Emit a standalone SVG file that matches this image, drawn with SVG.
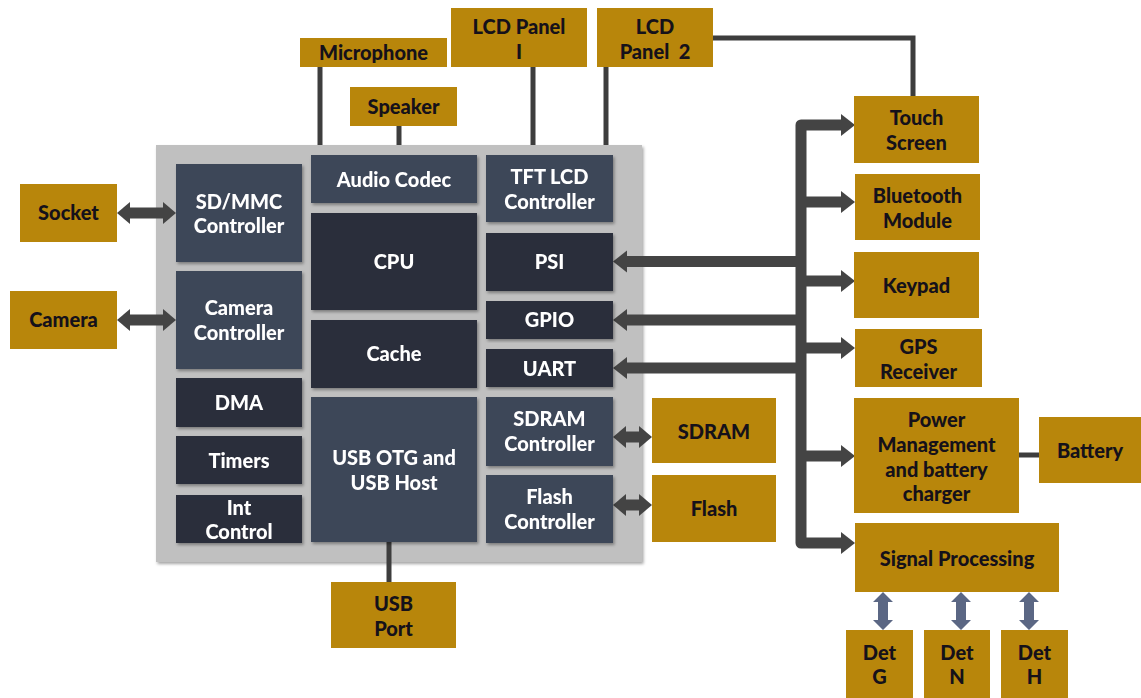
<svg xmlns="http://www.w3.org/2000/svg" width="1141" height="698" viewBox="0 0 1141 698">
<style>
.gold{fill:#b8860b}
.lt{fill:#3e4659}
.dk{fill:#2a2d3a}
.gt{font-family:Lato,"Open Sans",sans-serif;font-weight:900;font-size:20px;fill:#15111a;text-anchor:middle}
.wt{font-family:Lato,"Open Sans",sans-serif;font-weight:900;font-size:20px;fill:#fff;text-anchor:middle}
.ln{stroke:#3d3d3d;stroke-width:5;fill:none}
.bus{stroke:#444;stroke-width:11;fill:none;stroke-linejoin:round}
.ah{fill:#444}
.va{fill:#5b6784}
.sh{filter:url(#shadow)}
</style>
<defs>
<filter id="shadow" x="-10%" y="-10%" width="120%" height="120%">
<feDropShadow dx="1.5" dy="2" stdDeviation="1.5" flood-color="#000" flood-opacity="0.35"/>
</filter>
</defs>
<rect width="1141" height="698" fill="#fff"/>
<rect id="chip" x="156" y="145" width="486" height="417" fill="#c0c0c0" class="sh"/>

<g id="connectors">
<path class="ln" d="M320 67V145"/>
<path class="ln" d="M399 126V145"/>
<path class="ln" d="M533 67V145"/>
<path class="ln" d="M606 67V145"/>
<path class="ln" d="M713 38H913V96"/>
<path class="ln" d="M389 542V582"/>
<path class="ln" d="M1019 455H1039"/>
<path class="bus" d="M845 125H801V543H845"/>
<path class="bus" d="M801 202H845M801 281H845M801 348H845M801 456H845"/>
<path class="bus" d="M801 261.5H624M801 320H624M801 368H624"/>
<polygon class="ah" points="841,114 855,125 841,136"/>
<polygon class="ah" points="841,191 855,202 841,213"/>
<polygon class="ah" points="841,270 855,281 841,292"/>
<polygon class="ah" points="841,337 855,348 841,359"/>
<polygon class="ah" points="841,445 855,456 841,467"/>
<polygon class="ah" points="841,532 855,543 841,554"/>
<polygon class="ah" points="627,250.5 613,261.5 627,272.5"/>
<polygon class="ah" points="627,309 613,320 627,331"/>
<polygon class="ah" points="627,357 613,368 627,379"/>
<path class="bus" d="M624 437H641M624 505H641M128 213H165M128 320H165"/>
<polygon class="ah" points="626,426 613,437 626,448"/>
<polygon class="ah" points="639,426 652,437 639,448"/>
<polygon class="ah" points="626,494 613,505 626,516"/>
<polygon class="ah" points="639,494 652,505 639,516"/>
<polygon class="ah" points="130,202 117,213 130,224"/>
<polygon class="ah" points="163,202 176,213 163,224"/>
<polygon class="ah" points="130,309 117,320 130,331"/>
<polygon class="ah" points="163,309 176,320 163,331"/>
<path class="va" d="M883 592l10 10h-5v18h5l-10 10l-10-10h5v-18h-5z"/>
<path class="va" d="M961 592l10 10h-5v18h5l-10 10l-10-10h5v-18h-5z"/>
<path class="va" d="M1029 592l10 10h-5v18h5l-10 10l-10-10h5v-18h-5z"/>
</g>

<g id="microphone"><rect class="gold" x="300" y="38" width="147" height="29"/><text class="gt" x="373.5" y="59.5">Microphone</text></g>
<g id="lcd1"><rect class="gold" x="451" y="8" width="136" height="59"/><text class="gt" x="519" y="34">LCD Panel</text><text class="gt" x="519" y="59">I</text></g>
<g id="lcd2"><rect class="gold" x="597" y="8" width="116" height="59"/><text class="gt" x="655" y="34">LCD</text><text class="gt" x="655" y="59" xml:space="preserve">Panel  2</text></g>
<g id="speaker"><rect class="gold" x="350" y="87" width="107" height="39"/><text class="gt" x="403.5" y="114">Speaker</text></g>
<g id="socket"><rect class="gold" x="20" y="184" width="97" height="58"/><text class="gt" x="68.5" y="220">Socket</text></g>
<g id="camera"><rect class="gold" x="10" y="291" width="107" height="58"/><text class="gt" x="63.5" y="327">Camera</text></g>
<g id="usbport"><rect class="gold" x="331" y="582" width="125" height="66"/><text class="gt" x="393.5" y="611">USB</text><text class="gt" x="393.5" y="636">Port</text></g>
<g id="sdram"><rect class="gold" x="652" y="398" width="124" height="65"/><text class="gt" x="714" y="439">SDRAM</text></g>
<g id="flash"><rect class="gold" x="652" y="475" width="124" height="67"/><text class="gt" x="714" y="516">Flash</text></g>
<g id="touch"><rect class="gold" x="854" y="96" width="125" height="67"/><text class="gt" x="916.5" y="125">Touch</text><text class="gt" x="916.5" y="150">Screen</text></g>
<g id="bluetooth"><rect class="gold" x="855" y="174" width="125" height="66"/><text class="gt" x="917.5" y="203">Bluetooth</text><text class="gt" x="917.5" y="228">Module</text></g>
<g id="keypad"><rect class="gold" x="854" y="252" width="125" height="66"/><text class="gt" x="916.5" y="293">Keypad</text></g>
<g id="gps"><rect class="gold" x="855" y="329" width="127" height="58"/><text class="gt" x="918.5" y="354">GPS</text><text class="gt" x="918.5" y="379">Receiver</text></g>
<g id="power"><rect class="gold" x="854" y="398" width="165" height="115"/><text class="gt" x="936.5" y="427">Power</text><text class="gt" x="936.5" y="452">Management</text><text class="gt" x="936.5" y="477">and battery</text><text class="gt" x="936.5" y="501">charger</text></g>
<g id="battery"><rect class="gold" x="1039" y="417" width="102" height="66"/><text class="gt" x="1090" y="458">Battery</text></g>
<g id="signal"><rect class="gold" x="855" y="523" width="204" height="69"/><text class="gt" x="957" y="566">Signal Processing</text></g>
<g id="detg"><rect class="gold" x="846" y="630" width="67" height="68"/><text class="gt" x="879.5" y="660">Det</text><text class="gt" x="879.5" y="684">G</text></g>
<g id="detn"><rect class="gold" x="924" y="630" width="66" height="68"/><text class="gt" x="957" y="660">Det</text><text class="gt" x="957" y="684">N</text></g>
<g id="deth"><rect class="gold" x="1001" y="630" width="67" height="68"/><text class="gt" x="1034.5" y="660">Det</text><text class="gt" x="1034.5" y="684">H</text></g>

<g id="sdmmc" class="sh"><rect class="lt" x="176" y="164" width="126" height="98"/><text class="wt" x="239" y="209">SD/MMC</text><text class="wt" x="239" y="233">Controller</text></g>
<g id="camctrl" class="sh"><rect class="lt" x="176" y="271" width="126" height="98"/><text class="wt" x="239" y="315">Camera</text><text class="wt" x="239" y="340">Controller</text></g>
<g id="dma" class="sh"><rect class="dk" x="176" y="378" width="126" height="49"/><text class="wt" x="239" y="410">DMA</text></g>
<g id="timers" class="sh"><rect class="dk" x="176" y="436" width="126" height="48"/><text class="wt" x="239" y="468">Timers</text></g>
<g id="intctrl" class="sh"><rect class="dk" x="176" y="495" width="126" height="48"/><text class="wt" x="239" y="515">Int</text><text class="wt" x="239" y="539">Control</text></g>
<g id="audio" class="sh"><rect class="lt" x="311" y="155" width="166" height="48"/><text class="wt" x="394" y="187">Audio Codec</text></g>
<g id="cpu" class="sh"><rect class="dk" x="311" y="213" width="166" height="97"/><text class="wt" x="394" y="269">CPU</text></g>
<g id="cache" class="sh"><rect class="dk" x="311" y="320" width="166" height="68"/><text class="wt" x="394" y="361">Cache</text></g>
<g id="usbotg" class="sh"><rect class="lt" x="311" y="397" width="166" height="145"/><text class="wt" x="394" y="465">USB OTG and</text><text class="wt" x="394" y="490">USB Host</text></g>
<g id="tft" class="sh"><rect class="lt" x="486" y="155" width="127" height="67"/><text class="wt" x="549.5" y="184">TFT LCD</text><text class="wt" x="549.5" y="209">Controller</text></g>
<g id="psi" class="sh"><rect class="dk" x="486" y="233" width="127" height="58"/><text class="wt" x="549.5" y="269">PSI</text></g>
<g id="gpio" class="sh"><rect class="dk" x="486" y="301" width="127" height="38"/><text class="wt" x="549.5" y="327">GPIO</text></g>
<g id="uart" class="sh"><rect class="dk" x="486" y="349" width="127" height="38"/><text class="wt" x="549.5" y="376">UART</text></g>
<g id="sdramctrl" class="sh"><rect class="lt" x="486" y="397" width="127" height="69"/><text class="wt" x="549.5" y="426">SDRAM</text><text class="wt" x="549.5" y="451">Controller</text></g>
<g id="flashctrl" class="sh"><rect class="lt" x="486" y="475" width="127" height="68"/><text class="wt" x="549.5" y="504">Flash</text><text class="wt" x="549.5" y="529">Controller</text></g>
</svg>
